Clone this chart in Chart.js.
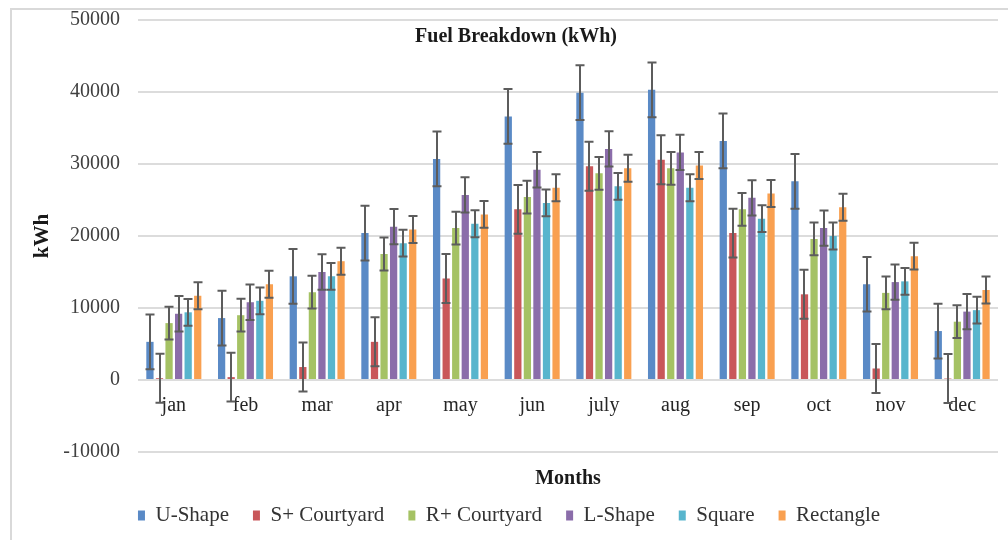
<!DOCTYPE html>
<html>
<head>
<meta charset="utf-8">
<script src="https://cdn.jsdelivr.net/npm/chart.js@4/dist/chart.umd.min.js"></script>
<style>
  body { margin: 0; background: #fff; }
  #wrap { position: relative; width: 1008px; height: 540px; }
  #frame { position: absolute; left: 10px; top: 8px; right: 0; bottom: 0;
           border-left: 2px solid #d9d9d9; border-top: 2px solid #d9d9d9; pointer-events: none; }
</style>
</head>
<body>
<div id="wrap">
  <canvas id="chart" width="1008" height="540"></canvas>
  <div id="frame"></div>
</div>
<script>
// Дані
const months = ['jan','feb','mar','apr','may','jun','july','aug','sep','oct','nov','dec'];
const seriesNames = ['U-Shape','S+ Courtyard','R+ Courtyard','L-Shape','Square','Rectangle'];
const uShape     = [5300, 8600, 14400, 20400, 30700, 36600, 39900, 40300, 33200, 27600, 13300, 6800];
const sCourtyard = [250, 400, 1800, 5300, 14100, 23700, 29700, 30600, 20400, 11900, 1600, 200];
const rCourtyard = [7900, 9000, 12200, 17500, 21100, 25400, 28700, 29400, 23700, 19600, 12100, 8100];
const lShape     = [9200, 10800, 15000, 21300, 25700, 29200, 32100, 31600, 25300, 21100, 13600, 9500];
const square     = [9400, 11000, 14400, 19000, 21700, 24600, 26900, 26700, 22400, 20000, 13700, 9700];
const rectangle  = [11700, 13300, 16500, 20900, 23000, 26700, 29400, 29800, 25900, 24000, 17200, 12500];
// похибка (± kWh) для кожної серії
const errorAmounts = [3800, 3400, 2280, 2450, 1860, 1870];
const yTicks = [-10000, 0, 10000, 20000, 30000, 40000, 50000];

const colors = ['#5a8ac6','#c9575a','#a5c264','#8b6daa','#58b5cd','#f9a050'];
const serif = '"Liberation Serif", "Times New Roman", serif';
const allSeries = [uShape, sCourtyard, rCourtyard, lShape, square, rectangle];

// Плагін для вусів похибки
const errorBarPlugin = {
  id: 'errorBars',
  afterDatasetsDraw(chart) {
    const ctx = chart.ctx;
    const y = chart.scales.y;
    ctx.save();
    ctx.strokeStyle = '#5c5c5c';
    ctx.lineWidth = 2;
    chart.data.datasets.forEach((ds, i) => {
      chart.getDatasetMeta(i).data.forEach((bar, j) => {
        const v = ds.data[j];
        const top = y.getPixelForValue(v + ds.errorBar);
        const bot = y.getPixelForValue(v - ds.errorBar);
        const x = Math.round(bar.x);
        ctx.beginPath();
        ctx.moveTo(x, top); ctx.lineTo(x, bot);
        ctx.moveTo(x - 4.5, top); ctx.lineTo(x + 4.5, top);
        ctx.moveTo(x - 4.5, bot); ctx.lineTo(x + 4.5, bot);
        ctx.stroke();
      });
    });
    ctx.restore();
  }
};

// Заголовок всередині області графіка
const innerTitle = {
  id: 'innerTitle',
  afterDraw(chart) {
    const ctx = chart.ctx;
    ctx.save();
    ctx.font = 'bold 20px ' + serif;
    ctx.fillStyle = '#1a1a1a';
    ctx.textAlign = 'center';
    ctx.textBaseline = 'middle';
    ctx.fillText('Fuel Breakdown (kWh)', 516, 37);
    ctx.restore();
  }
};

const chart = new Chart(document.getElementById('chart').getContext('2d'), {
  type: 'bar',
  data: {
    labels: months,
    datasets: seriesNames.map((name, i) => ({
      label: name,
      data: allSeries[i],
      errorBar: errorAmounts[i],
      backgroundColor: colors[i],
      borderWidth: 0,
      barPercentage: 0.76,
      categoryPercentage: 0.8
    }))
  },
  options: {
    responsive: false,
    animation: false,
    layout: { padding: { left: 20, right: 10, top: 20, bottom: 4 } },
    scales: {
      x: {
        position: { y: 0 },
        grid: { display: false, drawTicks: false },
        border: { display: false },
        ticks: { color: '#262626', font: { family: serif, size: 20 }, padding: 14 }
      },
      y: {
        min: -10000,
        max: 50000,
        afterBuildTicks: scale => { scale.ticks = yTicks.map(v => ({ value: v })); },
        afterFit: scale => { scale.width = 118; },
        grid: { color: '#dcdcdc', lineWidth: 2, drawTicks: true, tickLength: 16, tickColor: 'rgba(0,0,0,0)' },
        border: { display: false },
        ticks: {
          color: '#404040', font: { family: serif, size: 20 }, padding: 2,
          callback: v => String(v)
        },
        title: {
          display: true, text: 'kWh', color: '#1a1a1a',
          font: { family: serif, size: 21, weight: 'bold' },
          padding: { top: 10, bottom: 0 }
        }
      }
    },
    plugins: {
      title: {
        display: true, text: 'Months', position: 'bottom', fullSize: false,
        color: '#1a1a1a',
        font: { family: serif, size: 20, weight: 'bold' },
        padding: { top: 15, bottom: -10 }
      },
      legend: {
        position: 'bottom',
        weight: 3000,
        labels: {
          color: '#333',
          font: { family: serif, size: 21 },
          boxWidth: 7, boxHeight: 10, padding: 24
        }
      },
      tooltip: { enabled: false }
    }
  },
  plugins: [errorBarPlugin, innerTitle]
});
</script>
</body>
</html>
